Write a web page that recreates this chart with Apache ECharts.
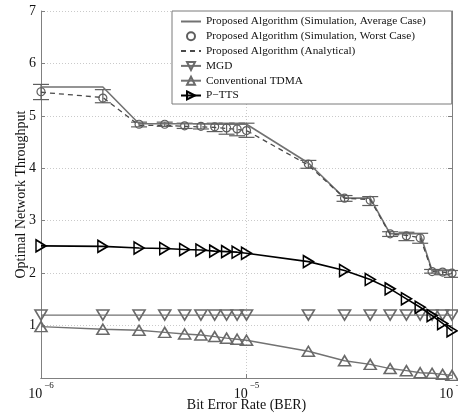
<!DOCTYPE html>
<html>
<head>
<meta charset="utf-8">
<script src="https://cdn.jsdelivr.net/npm/echarts@6/dist/echarts.min.js"></script>
<style>
  html, body { margin: 0; padding: 0; background: #fff; }
  #board { width: 458px; height: 418px; }
</style>
</head>
<body>
<div id="board"></div>
<script>
// 误码率 (横轴)
const berValues = [1e-6, 2e-6, 3e-6, 4e-6, 5e-6, 6e-6, 7e-6, 8e-6, 9e-6,
  1e-5, 2e-5, 3e-5, 4e-5, 5e-5, 6e-5, 7e-5, 8e-5, 9e-5, 1e-4];
// 次网格线位置
const minorGrid = [2e-6, 3e-6, 4e-6, 5e-6, 6e-6, 7e-6, 8e-6, 9e-6,
  2e-5, 3e-5, 4e-5, 5e-5, 6e-5, 7e-5, 8e-5, 9e-5];

// 各条曲线
const avgCase = [5.55, 5.55, 4.85, 4.85, 4.85, 4.85, 4.84, 4.84, 4.84, 4.84,
  4.10, 3.43, 3.43, 2.75, 2.75, 2.75, 2.05, 2.05, 2.05];
const worstCase = [5.46, 5.34, 4.84, 4.84, 4.81, 4.80, 4.79, 4.77, 4.75, 4.72,
  4.08, 3.43, 3.39, 2.75, 2.71, 2.67, 2.03, 2.02, 2.00];
const worstLow = [5.31, 5.25, 4.79, 4.80, 4.76, 4.75, 4.70, 4.65, 4.62, 4.59,
  4.00, 3.37, 3.29, 2.70, 2.62, 2.57, 2.00, 1.97, 1.92];
const worstHigh = [5.60, 5.50, 4.88, 4.88, 4.86, 4.85, 4.86, 4.86, 4.86, 4.86,
  4.15, 3.48, 3.46, 2.79, 2.78, 2.76, 2.07, 2.06, 2.05];
const analytical = [5.45, 5.35, 4.82, 4.82, 4.80, 4.79, 4.78, 4.76, 4.74, 4.72,
  4.06, 3.43, 3.40, 2.74, 2.72, 2.68, 2.03, 2.02, 2.00];
const mgd = [1.2, 1.2, 1.2, 1.2, 1.2, 1.2, 1.2, 1.2, 1.2, 1.2,
  1.2, 1.2, 1.2, 1.2, 1.2, 1.2, 1.2, 1.2, 1.2];
const tdma = [0.98, 0.93, 0.91, 0.87, 0.84, 0.82, 0.79, 0.76, 0.74, 0.72,
  0.51, 0.33, 0.26, 0.18, 0.14, 0.10, 0.09, 0.07, 0.05];
const ptts = [2.52, 2.51, 2.48, 2.47, 2.45, 2.44, 2.42, 2.41, 2.40, 2.38,
  2.22, 2.05, 1.88, 1.70, 1.51, 1.35, 1.19, 1.04, 0.90];

const yTicks = [0, 1, 2, 3, 4, 5, 6, 7];

const names = [
  'Proposed Algorithm (Simulation, Average Case)',
  'Proposed Algorithm (Simulation, Worst Case)',
  'Proposed Algorithm (Analytical)',
  'MGD',
  'Conventional TDMA',
  'P\u2212TTS'
];

const pair = arr => berValues.map((x, i) => [x, arr[i]]);
const serif = 'Liberation Serif';
const grayLine = '#727272';
const downTri = 'path://M0,0 L10,0 L5,10 Z';
const rightTri = 'path://M0,0 L10,5 L0,10 Z';

const myChart = echarts.init(document.getElementById('board'));

const option = {
  animation: false,
  backgroundColor: '#fff',
  grid: { left: 41, right: 6, top: 11, bottom: 40, outerBoundsMode: 'none' },
  legend: {
    data: [
      { name: names[0], itemStyle: { opacity: 0 } },
      { name: names[1] },
      { name: names[2], itemStyle: { opacity: 0 } },
      { name: names[3] },
      { name: names[4] },
      { name: names[5] }
    ],
    orient: 'vertical',
    left: 172,
    top: 11,
    padding: [5, 26, 3, 8],
    itemWidth: 20,
    itemHeight: 10,
    itemGap: 3.8,
    itemTextGap: 2,
    backgroundColor: '#fff',
    borderColor: '#7a7a7a',
    borderWidth: 1,
    textStyle: { fontFamily: serif, fontSize: 11.3, color: '#111' }
  },
  xAxis: [
    {
      type: 'log',
      logBase: 10,
      min: 1e-6,
      max: 1e-4,
      name: 'Bit Error Rate (BER)',
      nameLocation: 'middle',
      nameGap: 20,
      nameMoveOverlap: false,
      nameTextStyle: { fontFamily: serif, fontSize: 14, color: '#111' },
      axisLine: { lineStyle: { color: '#808080' } },
      axisTick: { inside: true, length: 4, lineStyle: { color: '#808080' } },
      axisLabel: {
        margin: 3,
        hideOverlap: false,
        formatter: v => '{b|10}{s|\u2212' + Math.abs(Math.round(Math.log10(v))) + '}',
        rich: {
          b: { fontFamily: serif, fontSize: 14, color: '#111', verticalAlign: 'bottom', lineHeight: 20 },
          s: { fontFamily: serif, fontSize: 9, color: '#111', verticalAlign: 'top', lineHeight: 20, padding: [0, 0, 0, 2] }
        }
      },
      splitLine: { show: true, lineStyle: { color: '#cacaca', type: [1, 2] } }
    },
    {
      type: 'log',
      logBase: 10,
      min: 1e-6,
      max: 1e-4,
      position: 'top',
      axisLine: { lineStyle: { color: '#808080' } },
      axisTick: { show: false },
      axisLabel: { show: false },
      splitLine: { show: false }
    }
  ],
  yAxis: [
    {
      type: 'value',
      min: 0,
      max: 7,
      interval: 1,
      name: 'Optimal Network Throughput',
      nameLocation: 'middle',
      nameGap: 13,
      nameMoveOverlap: false,
      nameTextStyle: { fontFamily: serif, fontSize: 14, color: '#111' },
      axisLine: { show: true, lineStyle: { color: '#808080' } },
      axisTick: { inside: true, length: 4, lineStyle: { color: '#808080' } },
      axisLabel: {
        margin: 5,
        fontFamily: serif,
        fontSize: 14,
        color: '#111',
        formatter: v => (v === yTicks[0] ? '' : String(v))
      },
      splitLine: { show: true, lineStyle: { color: '#cacaca', type: [1, 2] } }
    },
    {
      type: 'value',
      min: 0,
      max: 7,
      interval: 1,
      position: 'right',
      axisLine: { show: true, lineStyle: { color: '#808080' } },
      axisTick: { show: true, inside: true, length: 4, lineStyle: { color: '#808080' } },
      axisLabel: { show: false },
      splitLine: { show: false }
    }
  ],
  series: [
    {
      name: names[0],
      type: 'line',
      data: pair(avgCase),
      symbol: 'none',
      lineStyle: { color: grayLine, width: 1.6 },
      itemStyle: { color: grayLine },
      z: 3,
      // 次网格线
      markLine: {
        silent: true,
        symbol: 'none',
        label: { show: false },
        lineStyle: { color: '#cacaca', type: [1, 2], width: 1 },
        data: minorGrid.map(v => ({ xAxis: v }))
      }
    },
    {
      name: 'errbar',
      type: 'custom',
      data: berValues.map((x, i) => [x, worstLow[i], worstHigh[i]]),
      z: 3,
      renderItem: (params, api) => {
        const lo = api.coord([api.value(0), api.value(1)]);
        const hi = api.coord([api.value(0), api.value(2)]);
        const w = 8;
        const st = { stroke: '#5e5e5e', lineWidth: 1.2 };
        return {
          type: 'group',
          children: [
            { type: 'line', shape: { x1: lo[0], y1: lo[1], x2: hi[0], y2: hi[1] }, style: st },
            { type: 'line', shape: { x1: lo[0] - w, y1: lo[1], x2: lo[0] + w, y2: lo[1] }, style: st },
            { type: 'line', shape: { x1: hi[0] - w, y1: hi[1], x2: hi[0] + w, y2: hi[1] }, style: st }
          ]
        };
      }
    },
    {
      name: names[1],
      type: 'line',
      data: pair(worstCase),
      symbol: 'circle',
      symbolSize: 8,
      lineStyle: { width: 0, opacity: 0 },
      itemStyle: { color: 'transparent', borderColor: '#5e5e5e', borderWidth: 1.2 },
      z: 4
    },
    {
      name: names[2],
      type: 'line',
      data: pair(analytical),
      symbol: 'none',
      lineStyle: { color: '#4a4a4a', width: 1.3, type: [5, 4] },
      itemStyle: { color: '#4a4a4a' },
      z: 3
    },
    {
      name: names[3],
      type: 'line',
      data: pair(mgd),
      symbol: downTri,
      symbolSize: [12, 10],
      lineStyle: { color: grayLine, width: 1.4 },
      itemStyle: { color: 'transparent', borderColor: '#6a6a6a', borderWidth: 1.6 },
      z: 4
    },
    {
      name: names[4],
      type: 'line',
      data: pair(tdma),
      symbol: 'triangle',
      symbolSize: [12, 10],
      lineStyle: { color: grayLine, width: 1.4 },
      itemStyle: { color: 'transparent', borderColor: '#6a6a6a', borderWidth: 1.6 },
      z: 4
    },
    {
      name: names[5],
      type: 'line',
      data: pair(ptts),
      symbol: rightTri,
      symbolSize: [10, 12],
      lineStyle: { color: '#000', width: 1.6 },
      itemStyle: { color: 'transparent', borderColor: '#000', borderWidth: 1.6 },
      z: 5
    }
  ]
};

myChart.setOption(option);
</script>
</body>
</html>
